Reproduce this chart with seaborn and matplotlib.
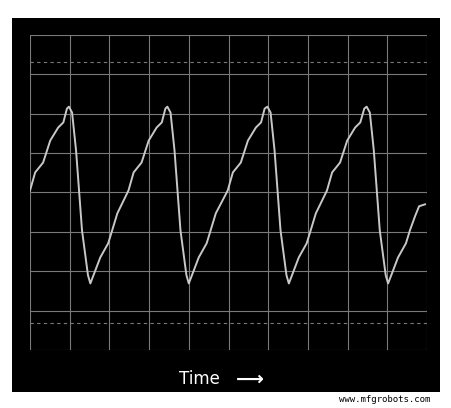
import matplotlib
matplotlib.use("Agg")
import matplotlib.pyplot as plt
import seaborn as sns
import pandas as pd
from matplotlib.patches import Rectangle

# waveform samples (x and y in screen divisions)
time_div = [0.00, 0.13, 0.33, 0.51, 0.71, 0.84, 0.93, 0.98, 1.06, 1.16, 1.31, 1.46, 1.52, 1.60, 1.77, 1.97, 2.07, 2.20, 2.48,
            2.61, 2.81, 2.99, 3.19, 3.32, 3.41, 3.46, 3.54, 3.64, 3.79, 3.94, 4.00, 4.08, 4.25, 4.45, 4.55, 4.68, 4.98,
            5.11, 5.31, 5.49, 5.69, 5.82, 5.91, 5.98, 6.06, 6.16, 6.31, 6.46, 6.52, 6.60, 6.77, 6.97, 7.07, 7.20, 7.48,
            7.61, 7.81, 7.99, 8.19, 8.32, 8.42, 8.48, 8.56, 8.66, 8.81, 8.96, 9.02, 9.10, 9.27, 9.47, 9.57, 9.70, 9.80, 9.95]
volts_div = [0.05, 0.51, 0.76, 1.32, 1.65, 1.78, 2.13, 2.18, 2.03, 1.07, -0.96, -2.10, -2.31, -2.10, -1.65, -1.29, -0.96, -0.53, 0.05,
             0.51, 0.76, 1.32, 1.65, 1.78, 2.13, 2.18, 2.03, 1.07, -0.96, -2.10, -2.31, -2.10, -1.65, -1.29, -0.96, -0.53, 0.05,
             0.51, 0.76, 1.32, 1.65, 1.78, 2.13, 2.18, 2.03, 1.07, -0.96, -2.10, -2.31, -2.10, -1.65, -1.29, -0.96, -0.53, 0.05,
             0.51, 0.76, 1.32, 1.65, 1.78, 2.13, 2.18, 2.03, 1.07, -0.96, -2.10, -2.31, -2.10, -1.65, -1.29, -0.96, -0.60, -0.35, -0.30]
trigger_levels = [3.32, -3.32]

df = pd.DataFrame({"t": time_div, "v": volts_div})

fig = plt.figure(figsize=(4.51, 4.08), dpi=100, facecolor="white")
fig.patches.append(Rectangle((12/451, 16/408), 428/451, 374/408, transform=fig.transFigure,
                             facecolor="black", edgecolor="none", zorder=-10))
ax = fig.add_axes([30/451, 58/408, 397/451, 315/408])
ax.set_zorder(5)
ax.set_facecolor("black")
ax.set_xlim(0, 10)
ax.set_ylim(-4, 4)
for i in range(11):
    ax.axvline(i, color="#7a7a7a", lw=0.8, zorder=1)
for j in range(-4, 5):
    ax.axhline(j, color="#7a7a7a", lw=0.8, zorder=1)
for lv in trigger_levels:
    ax.axhline(lv, color="#7a7a7a", lw=0.8, ls=(0, (3, 3)), zorder=1)
sns.lineplot(data=df, x="t", y="v", ax=ax, color="#c8c8c8", lw=1.4, sort=False, zorder=3)
ax.set_xticks([]); ax.set_yticks([])
ax.set_xlabel(""); ax.set_ylabel("")
for s in ax.spines.values():
    s.set_visible(False)

fig.text(199/451, 1 - 379/408, "Time", color="white", fontsize=12, ha="center", va="center", zorder=10)
fig.text(250/451, 1 - 379/408, "\u27f6", color="white", fontsize=14, ha="center", va="center", fontweight="bold", zorder=10)
fig.text(430/451, 1 - 399/408, "www.mfgrobots.com", color="black", fontsize=6.5, ha="right", va="center",
         family="DejaVu Sans Mono")
fig.savefig("out.png", dpi=100, facecolor="white")
